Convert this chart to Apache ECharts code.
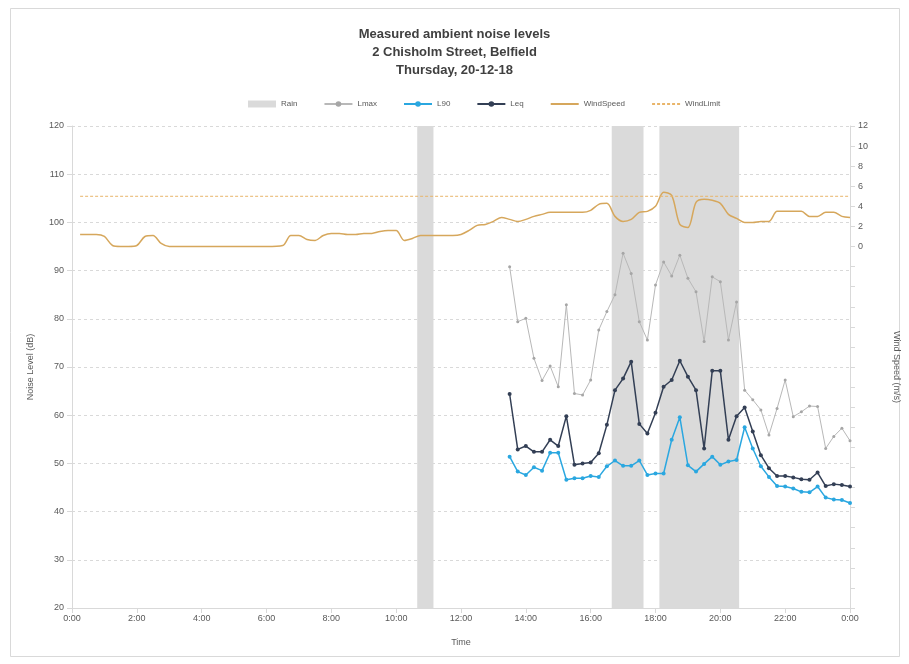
<!DOCTYPE html>
<html>
<head>
<meta charset="utf-8">
<script src="https://cdn.jsdelivr.net/npm/echarts@6/dist/echarts.min.js"></script>
<style>html,body{margin:0;padding:0;background:#fff}#c{width:909px;height:664px}</style>
</head>
<body>
<div id="c"></div>
<script>
// Times in hours for the 15-min noise samples
var noiseTimes = [13.5,13.75,14,14.25,14.5,14.75,15,15.25,15.5,15.75,16,16.25,16.5,16.75,17,17.25,17.5,17.75,18,18.25,18.5,18.75,19,19.25,19.5,19.75,20,20.25,20.5,20.75,21,21.25,21.5,21.75,22,22.25,22.5,22.75,23,23.25,23.5,23.75,24];
var lmaxValues = [90.8,79.4,80.1,71.8,67.2,70.2,65.9,82.9,64.5,64.2,67.3,77.7,81.5,85.0,93.6,89.4,79.4,75.6,87.0,91.8,88.9,93.2,88.4,85.6,75.3,88.7,87.7,75.6,83.5,65.2,63.2,61.1,55.9,61.4,67.3,59.7,60.7,61.9,61.8,53.1,55.6,57.3,54.7];
var l90Values = [51.4,48.3,47.6,49.2,48.5,52.2,52.2,46.6,46.9,46.9,47.4,47.2,49.4,50.6,49.5,49.5,50.6,47.6,47.9,47.9,54.9,59.6,49.6,48.3,49.9,51.4,49.7,50.4,50.7,57.5,53.1,49.4,47.2,45.3,45.2,44.8,44.1,44.0,45.2,42.9,42.5,42.4,41.8];
var leqValues = [64.4,52.9,53.6,52.4,52.4,54.9,53.6,59.8,49.7,50.0,50.2,52.1,58.0,65.2,67.6,71.1,58.2,56.2,60.5,65.9,67.3,71.3,68.0,65.2,53.1,69.2,69.2,54.9,59.8,61.6,56.6,51.7,49.0,47.4,47.4,47.1,46.7,46.6,48.1,45.3,45.7,45.5,45.2];

var windTimes = [0.25,0.5,0.75,1,1.25,1.5,1.75,2,2.25,2.5,2.75,3,4,5,6,6.5,6.75,7,7.25,7.5,7.75,8,8.25,8.5,8.75,9,9.25,9.5,9.75,10,10.25,10.5,10.75,11,11.25,11.5,11.75,12,12.25,12.5,12.75,13,13.25,13.5,13.75,14,14.25,14.5,14.75,15,15.25,15.5,15.75,16,16.25,16.5,16.75,17,17.25,17.5,17.75,18,18.25,18.5,18.75,19,19.25,19.5,19.75,20,20.25,20.5,20.75,21,21.25,21.5,21.75,22,22.25,22.5,22.75,23,23.25,23.5,23.75,24];
var windValues = [1.2,1.2,1.2,1.0,0.1,0,0,0.1,1.0,1.1,0.3,0,0,0,0,0.1,1.1,1.1,0.7,0.6,1.1,1.3,1.3,1.2,1.2,1.3,1.3,1.5,1.6,1.6,0.6,0.8,1.1,1.1,1.1,1.1,1.1,1.2,1.6,2.1,2.2,2.5,2.9,2.7,2.5,2.7,3.0,3.2,3.4,3.4,3.4,3.4,3.4,3.6,4.2,4.3,3.0,2.5,2.7,3.4,3.5,4.0,5.4,5.1,2.2,1.9,4.4,4.7,4.6,4.3,3.2,2.8,2.4,2.4,2.5,2.5,3.5,3.5,3.5,3.5,3.0,3.0,3.4,3.4,3.0,2.9];

var windLimitTimes = [0.25,24];
var windLimitValues = [5,5];

var rainStart = [10.65,16.65,18.12];
var rainEnd = [11.15,17.63,20.58];

var xTickLabels = ['0:00','2:00','4:00','6:00','8:00','10:00','12:00','14:00','16:00','18:00','20:00','22:00','0:00'];

function zip(a,b){return a.map(function(v,i){return [v,b[i]];});}
var rainData = rainStart.map(function(s,i){return [s,rainEnd[i],20,120];});

var chart = echarts.init(document.getElementById('c'));
var axisTxt = {color:'#595959',fontSize:9,fontFamily:'Liberation Sans'};
chart.setOption({
  animation:false,
  backgroundColor:'#fff',
  textStyle:{fontFamily:'Liberation Sans'},
  graphic:[{type:'rect',shape:{x:10.5,y:8.5,width:889,height:648},style:{fill:'none',stroke:'#d9d9d9',lineWidth:1},silent:true}],
  title:{text:'Measured ambient noise levels\n2 Chisholm Street, Belfield\nThursday, 20-12-18',left:'center',top:20,
    textStyle:{fontSize:13,fontWeight:'bold',color:'#404040',lineHeight:18,fontFamily:'Liberation Sans'}},
  legend:{top:95,left:243,itemGap:26,itemWidth:28,itemHeight:7,textStyle:{fontSize:8,color:'#595959'},
    data:[{name:'Rain',icon:'rect'},'Lmax','L90','Leq',{name:'WindSpeed',itemStyle:{opacity:0}},{name:'WindLimit',itemStyle:{opacity:0}}]},
  grid:{left:72,right:57,top:126,bottom:56},
  xAxis:{type:'value',min:0,max:24,interval:2,name:'Time',nameLocation:'middle',nameGap:30,
    nameTextStyle:{color:'#595959',fontSize:9},
    axisLabel:Object.assign({formatter:function(v){return xTickLabels[Math.round(v/2)];},margin:6},axisTxt),
    axisLine:{onZero:false,lineStyle:{color:'#d9d9d9'}},axisTick:{show:true,lineStyle:{color:'#d9d9d9'}},splitLine:{show:false}},
  yAxis:[{type:'value',min:20,max:120,interval:10,name:'Noise Level (dB)',nameLocation:'middle',nameGap:37,
      nameTextStyle:{color:'#595959',fontSize:9},axisLabel:axisTxt,
      axisLine:{show:true,lineStyle:{color:'#d9d9d9'}},axisTick:{show:true,lineStyle:{color:'#d9d9d9'}},
      splitLine:{show:true,lineStyle:{color:'#d9d9d9',type:[3,3]}}},
    {type:'value',min:-36,max:12,interval:2,name:'Wind Speed (m/s)',nameLocation:'middle',nameGap:42,nameRotate:-90,
      nameTextStyle:{color:'#595959',fontSize:9},
      axisLabel:Object.assign({formatter:function(v){return v>=0?String(v):'';}},axisTxt),
      axisLine:{show:true,lineStyle:{color:'#d9d9d9'}},axisTick:{show:true,lineStyle:{color:'#d9d9d9'}},splitLine:{show:false}}],
  series:[
    {name:'Rain',type:'custom',yAxisIndex:0,z:1,itemStyle:{color:'#dadada'},
      encode:{x:[0,1],y:[2,3]},data:rainData,
      renderItem:function(params,api){
        var p1=api.coord([api.value(0),api.value(3)]);
        var p2=api.coord([api.value(1),api.value(2)]);
        return {type:'rect',shape:{x:p1[0],y:p1[1],width:p2[0]-p1[0],height:p2[1]-p1[1]},style:{fill:'#dadada'}};
      }},
    {name:'Lmax',type:'line',yAxisIndex:0,z:3,data:zip(noiseTimes,lmaxValues),symbol:'circle',symbolSize:3,
      lineStyle:{color:'#b8b8b8',width:1},itemStyle:{color:'#a6a6a6'}},
    {name:'L90',type:'line',yAxisIndex:0,z:4,data:zip(noiseTimes,l90Values),symbol:'circle',symbolSize:4,
      lineStyle:{color:'#2aa7e0',width:1.5},itemStyle:{color:'#2aa7e0'}},
    {name:'Leq',type:'line',yAxisIndex:0,z:5,data:zip(noiseTimes,leqValues),symbol:'circle',symbolSize:4,
      lineStyle:{color:'#333f55',width:1.5},itemStyle:{color:'#333f55'}},
    {name:'WindSpeed',type:'line',yAxisIndex:1,z:2,data:zip(windTimes,windValues),symbol:'none',smooth:0.3,
      lineStyle:{color:'#d6a75c',width:1.5},itemStyle:{color:'#d6a75c'}},
    {name:'WindLimit',type:'line',yAxisIndex:1,z:2,data:zip(windLimitTimes,windLimitValues),symbol:'none',
      lineStyle:{color:'#e9b56a',width:1,type:[3,2]},itemStyle:{color:'#e9b56a'}}
  ]
});
</script>
</body>
</html>
